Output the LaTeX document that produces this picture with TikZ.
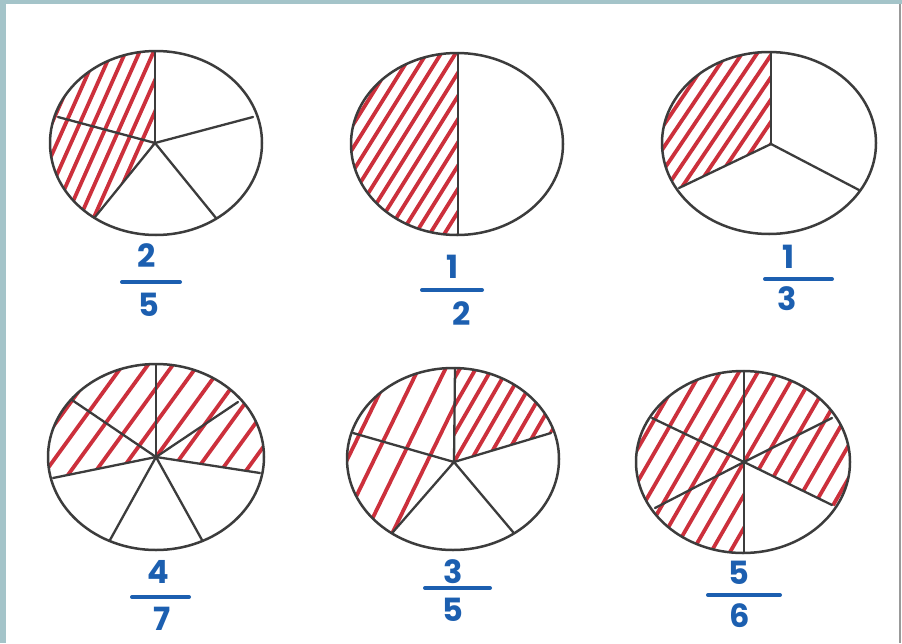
\documentclass[tikz,border=0pt]{standalone}
\usepackage{fontspec}
\setmainfont{Poppins}
\usetikzlibrary{calc}
\definecolor{frameblue}{HTML}{A4C4C9}
\definecolor{penline}{HTML}{3C3C3C}
\definecolor{hatchred}{HTML}{CC303C}
\definecolor{inkblue}{HTML}{1C5FB0}
\tikzset{
  pie/.style={draw=penline, line width=2.5pt},
  spoke/.style={draw=penline, line width=2.3pt, line cap=round},
  hatchline/.style={draw=hatchred, line width=3.8pt, line cap=round},
  digit/.style={text=inkblue, font=\fontsize{32}{32}\selectfont\bfseries, inner sep=0pt, anchor=center},
  fracbar/.style={draw=inkblue, line width=4pt, line cap=round}
}
% #1 cx, #2 cy, #3 angle, #4 spacing
\newcommand\myhatch[4]{%
  \foreach \k in {-22,...,22}{%
    \draw[hatchline] ({#1+\k*#4-cos(#3)*200},{#2+sin(#3)*200}) -- ++({cos(#3)*400},{-sin(#3)*400});
  }%
}
\begin{document}
\begin{tikzpicture}[x=1pt,y=-1pt]
\useasboundingbox (0,0) rectangle (902,643);
\fill[white] (0,0) rectangle (902,643);
\fill[frameblue] (0,0) rectangle (6,643);
\fill[frameblue] (0,0) rectangle (902,3.5);
\draw[gray!80, line width=1.2pt] (900,3.5) -- (900,643);

% ---------- circle 1 : 2/5 ----------
\coordinate (c1) at (155,143);
\coordinate (c1t) at (155,52);
\coordinate (c1ur) at (253,117);
\coordinate (c1lr) at (216,218);
\coordinate (c1ll) at (95,217);
\coordinate (c1l) at (58,117);
\begin{scope}
  \clip (156,143) ellipse [x radius=106pt, y radius=92pt];
  \clip (155,143) -- (155,-50) -- (-100,-50) -- (-100,365) -- (-25,365) -- cycle;
  \myhatch{155}{143}{66}{14}
\end{scope}
\draw[pie] (156,143) ellipse [x radius=106pt, y radius=92pt];
\foreach \p in {c1t,c1ur,c1lr,c1ll,c1l} \draw[spoke] (c1) -- (\p);
\node[digit] (n1) at (147,256) {2};
\node[digit] (d1) at (149,305) {5};
\coordinate (b1a) at (122,282); \coordinate (b1b) at (180,282);
\draw[fracbar] (b1a) -- (b1b);

% ---------- circle 2 : 1/2 ----------
\coordinate (c2t) at (458,53);
\coordinate (c2b) at (458,235);
\begin{scope}
  \clip (457,144) ellipse [x radius=106pt, y radius=91pt];
  \clip (300,0) rectangle (458,300);
  \myhatch{457}{144}{58}{14.5}
\end{scope}
\draw[pie] (457,144) ellipse [x radius=106pt, y radius=91pt];
\draw[spoke] (c2t) -- (c2b);
\node[digit] (n2) at (453,267) {1};
\node[digit] (d2) at (462,314) {2};
\coordinate (b2a) at (422,290); \coordinate (b2b) at (482,290);
\draw[fracbar] (b2a) -- (b2b);

% ---------- circle 3 : 1/3 ----------
\coordinate (c3) at (771,144);
\coordinate (c3t) at (771,52);
\coordinate (c3ll) at (679,188);
\coordinate (c3lr) at (859,190);
\begin{scope}
  \clip (769,143) ellipse [x radius=107pt, y radius=91pt];
  \clip (771,144) -- (771,-50) -- (550,-50) -- (550,250) -- (587,232) -- cycle;
  \myhatch{771}{144}{56}{15}
\end{scope}
\draw[pie] (769,143) ellipse [x radius=107pt, y radius=91pt];
\foreach \p in {c3t,c3ll,c3lr} \draw[spoke] (c3) -- (\p);
\node[digit] (n3) at (789,257) {1};
\node[digit] (d3) at (787,299) {3};
\coordinate (b3a) at (765,279); \coordinate (b3b) at (832,279);
\draw[fracbar] (b3a) -- (b3b);

% ---------- circle 4 : 4/7 ----------
\coordinate (c4) at (156,457);
\coordinate (c4t) at (156,365);
\coordinate (c4ur) at (238,402);
\coordinate (c4r) at (260,473);
\coordinate (c4lr) at (202,540);
\coordinate (c4ll) at (110,540);
\coordinate (c4l) at (53,478);
\coordinate (c4ul) at (72,400);
\begin{scope}
  \clip (156,457) ellipse [x radius=108pt, y radius=93pt];
  \clip (156,457) -- (-153,520) -- (-153,200) -- (468,200) -- (468,505) -- cycle;
  \myhatch{156}{457}{54}{25}
\end{scope}
\draw[pie] (156,457) ellipse [x radius=108pt, y radius=93pt];
\foreach \p in {c4t,c4ur,c4r,c4lr,c4ll,c4l,c4ul} \draw[spoke] (c4) -- (\p);
\node[digit] (n4) at (158,572) {4};
\node[digit] (d4) at (162,619) {7};
\coordinate (b4a) at (132,597); \coordinate (b4b) at (189,597);
\draw[fracbar] (b4a) -- (b4b);

% ---------- circle 5 : 3/5 ----------
\coordinate (c5) at (454,462);
\coordinate (c5t) at (455,368);
\coordinate (c5ru) at (551,433);
\coordinate (c5lr) at (513,532);
\coordinate (c5ll) at (393,532);
\coordinate (c5l) at (353,433);
\begin{scope}
  \clip (453,459) ellipse [x radius=106pt, y radius=91pt];
  \clip (454,462) -- (455,200) -- (200,200) -- (200,672) -- (271,672) -- cycle;
  \myhatch{454}{462}{64}{27}
\end{scope}
\begin{scope}
  \clip (453,459) ellipse [x radius=106pt, y radius=91pt];
  \clip (454,462) -- (455,200) -- (745,200) -- (745,375) -- cycle;
  \myhatch{454}{462}{60}{16}
\end{scope}
\draw[pie] (453,459) ellipse [x radius=106pt, y radius=91pt];
\foreach \p in {c5t,c5ru,c5lr,c5ll,c5l} \draw[spoke] (c5) -- (\p);
\node[digit] (n5) at (453,572) {3};
\node[digit] (d5) at (453,610) {5};
\coordinate (b5a) at (425,588); \coordinate (b5b) at (490,588);
\draw[fracbar] (b5a) -- (b5b);

% ---------- circle 6 : 5/6 ----------
\coordinate (c6) at (744,462);
\coordinate (c6t) at (744,371);
\coordinate (c6b) at (744,553);
\coordinate (c6ur) at (832,418);
\coordinate (c6lr) at (832,505);
\coordinate (c6ul) at (652,418);
\coordinate (c6ll) at (655,508);
\begin{scope}
  \clip (743,462) ellipse [x radius=107pt, y radius=91pt];
  \clip (744,462) -- (1008,591) -- (1008,200) -- (500,200) -- (500,800) -- (744,800) -- cycle;
  \myhatch{744}{462}{60}{19}
\end{scope}
\draw[pie] (743,462) ellipse [x radius=107pt, y radius=91pt];
\foreach \p in {c6t,c6b,c6ur,c6lr,c6ul,c6ll} \draw[spoke] (c6) -- (\p);
\node[digit] (n6) at (739,573) {5};
\node[digit] (d6) at (740,616) {6};
\coordinate (b6a) at (708,595); \coordinate (b6b) at (780,595);
\draw[fracbar] (b6a) -- (b6b);
\end{tikzpicture}
\end{document}
